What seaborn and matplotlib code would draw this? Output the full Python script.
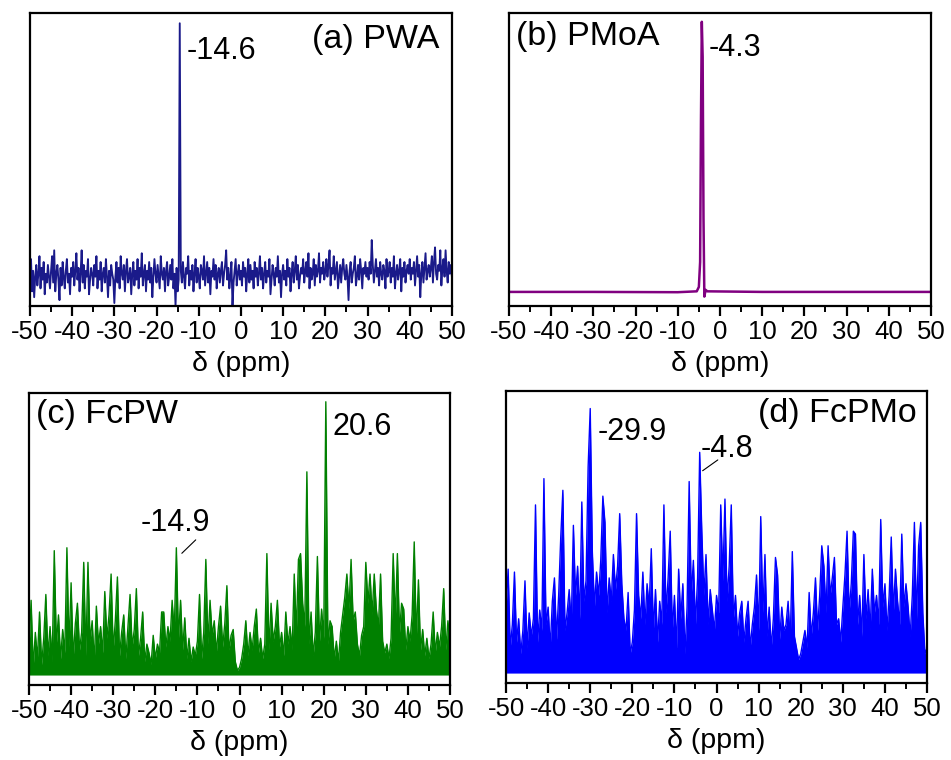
import numpy as np
import pandas as pd
import matplotlib
matplotlib.use("Agg")
import matplotlib.pyplot as plt
import seaborn as sns

# ---------------- data (intensity in % of panel height) ----------------
ppm_fine = np.linspace(-50, 50, 401)   # 0.25 ppm steps
ppm_grid = np.linspace(-50, 50, 201)   # 0.5 ppm steps

pwa = [9, 16, 5, 12, 3, 10, 14, 7, 11, 17, 6, 13, 9, 15, 4, 11, 8, 14, 10, 6,
       12, 17, 8, 19, 5, 11, 14, 9, 2, 13, 7, 15, 10, 6, 12, 16, 8, 11, 4, 13,
       10, 15, 7, 12, 18, 9, 13, 5, 11, 19, 8, 14, 6, 12, 10, 16, 4, 9, 13, 11,
       7, 14, 10, 17, 6, 12, 9, 15, 5, 11, 13, 8, 16, 10, 3, 12, 7, 14, 11, 9,
       1, 10, 15, 8, 13, 6, 17, 11, 9, 14, 5, 12, 16, 8, 10, 13, 4, 11, 15, 7,
       12, 9, 16, 6, 13, 10, 18, 7, 11, 14, 5, 12, 9, 15, 8, 13, 3, 10, 16, 11,
       8, 14, 10, 6, 17, 11, 9, 13, 5, 12, 15, 7, 10, 14, 9, 16, 6, 11, 0, 13,
       5, 9, 96.5, 12, 8, 15, 10, 6, 13, 11, 17, 7, 12, 9, 14, 5, 11, 16, 8, 13,
       10, 6, 14, 12, 9, 17, 7, 11, 15, 8, 13, 4, 12, 10, 16, 9, 14, 6, 11, 13,
       8, 12, 15, 7, 11, 14, 19, 9, 13, 6, 10, 15, 0, 8, 12, 16, 7, 11, 14, 9,
       12, 7, 15, 10, 13, 5, 11, 16, 8, 14, 9, 12, 6, 15, 10, 13, 7, 11, 17, 9,
       13, 6, 11, 15, 8, 12, 10, 16, 4, 9, 14, 11, 7, 13, 10, 17, 8, 12, 3, 11,
       14, 9, 12, 7, 16, 10, 13, 5, 11, 15, 8, 12, 17, 9, 14, 6, 10, 13, 11, 16,
       8, 12, 15, 10, 18, 6, 13, 9, 11, 16, 7, 14, 10, 12, 18, 8, 13, 11, 15, 9,
       12, 16, 10, 14, 19, 7, 13, 11, 17, 9, 12, 15, 6, 10, 14, 8, 13, 16, 11, 9,
       14, 10, 2, 12, 15, 8, 11, 13, 17, 7, 10, 14, 9, 16, 12, 6, 13, 11, 15, 10,
       13, 9, 15, 11, 22.5, 14, 8, 12, 16, 10, 13, 7, 15, 11, 9, 14, 12, 6, 16, 10,
       12, 15, 8, 13, 10, 17, 6, 11, 14, 9, 12, 16, 5, 13, 10, 15, 8, 12, 14, 11,
       16, 9, 13, 11, 15, 7, 12, 17, 10, 14, 3, 11, 15, 8, 13, 18, 9, 12, 14, 10,
       13, 17, 8, 15, 20, 11, 9, 14, 12, 19, 7, 13, 16, 10, 19, 12, 8, 15, 11, 14,
       10]

pmoa_ppm = [-50, -30, -10, -5.5, -5.0, -4.7, -4.5, -4.3, -4.1, -3.9, -3.7, -3.4, -3.0, 10, 30, 50]
pmoa = [4.8, 4.8, 4.7, 5.0, 6.5, 15, 63, 97, 85, 30, 3.2, 5.5, 5.0, 4.8, 4.8, 4.8]

fcpw = [12, 29, 6, 18, 9, 25, 7, 16, 31, 10, 20, 8, 46, 14, 24, 9, 19, 11, 47, 13,
        35, 9, 21, 28, 12, 18, 42, 10, 42, 15, 22, 8, 27, 14, 20, 11, 32, 16, 24, 38,
        12, 22, 37, 10, 18, 24, 9, 20, 31, 13, 19, 33, 10, 16, 25, 8, 14, 11, 7, 17,
        9, 14, 11, 25, 25, 13, 20, 15, 29, 18, 47, 16, 29, 12, 23, 9, 16, 8, 13, 10,
        15, 31, 9, 18, 43, 14, 29, 17, 22, 11, 20, 27, 13, 21, 34, 12, 17, 19, 8, 5,
        6, 9, 14, 22, 10, 18, 12, 20, 26, 11, 16, 9, 14, 45, 12, 28, 15, 20, 29, 13,
        18, 10, 25, 14, 20, 12, 38, 18, 43, 45, 28, 20, 73, 14, 25, 10, 18, 44, 15, 26,
        16, 97, 14, 22, 20, 9, 15, 8, 18, 24, 30, 38, 26, 43, 22, 25, 14, 10, 17, 20,
        42, 28, 38, 24, 38, 26, 20, 38, 15, 11, 14, 9, 16, 45, 22, 45, 18, 28, 26, 12,
        20, 15, 24, 49, 16, 36, 12, 19, 10, 16, 9, 14, 25, 11, 18, 13, 20, 33, 12, 22,
        14]

fcpmo = [25, 39, 12, 20, 38, 14, 22, 10, 18, 35, 12, 24, 16, 22, 61, 14, 25, 18, 70, 20,
         26, 12, 28, 36, 15, 30, 50, 66, 18, 24, 32, 20, 54, 30, 40, 22, 62, 28, 35, 74,
         94, 45, 26, 38, 30, 42, 64, 55, 24, 36, 28, 44, 32, 40, 58, 34, 22, 18, 31, 10,
         14, 25, 58, 30, 22, 38, 20, 34, 26, 46, 18, 32, 14, 28, 20, 61, 24, 36, 52, 18,
         30, 12, 39, 22, 34, 10, 26, 69, 30, 42, 20, 36, 79, 52, 30, 44, 20, 32, 25, 18,
         30, 24, 61, 35, 63, 28, 40, 61, 22, 30, 16, 24, 28, 14, 22, 28, 12, 20, 26, 37,
         18, 57, 24, 44, 16, 26, 12, 22, 43, 37, 15, 26, 18, 20, 28, 14, 45, 16, 12, 8,
         10, 14, 18, 12, 31, 16, 24, 36, 18, 30, 47, 40, 24, 47, 30, 36, 43, 20, 22, 14,
         26, 37, 52, 24, 34, 52, 51, 20, 30, 16, 44, 22, 32, 18, 39, 24, 30, 20, 56, 26,
         34, 18, 30, 50, 24, 39, 28, 20, 51, 26, 34, 26, 16, 30, 55, 22, 47, 55, 24, 10,
         12]

panel_titles = ["(a) PWA", "(b) PMoA", "(c) FcPW", "(d) FcPMo"]
xticks = [-50, -40, -30, -20, -10, 0, 10, 20, 30, 40, 50]
xlabel = "δ (ppm)"

# ---------------- style ----------------
sns.set_style("ticks")
plt.rcParams["font.family"] = ["Liberation Sans", "DejaVu Sans"]
plt.rcParams["text.color"] = "black"
plt.rcParams["axes.labelcolor"] = "black"
plt.rcParams["xtick.color"] = "black"
plt.rcParams["axes.linewidth"] = 1.6

fig = plt.figure(figsize=(9.51, 7.60), dpi=100)
rects = [
    [0.0315, 0.5974, 0.4437, 0.3855],
    [0.5352, 0.5974, 0.4437, 0.3855],
    [0.0305, 0.0987, 0.4427, 0.3842],
    [0.5321, 0.1013, 0.4427, 0.3842],
]
axes = [fig.add_axes(r) for r in rects]

df_a = pd.DataFrame({"ppm": ppm_fine, "I": pwa})
df_b = pd.DataFrame({"ppm": pmoa_ppm, "I": pmoa})
df_c = pd.DataFrame({"ppm": ppm_grid, "I": fcpw})
df_d = pd.DataFrame({"ppm": ppm_grid, "I": fcpmo})

sns.lineplot(data=df_a, x="ppm", y="I", ax=axes[0], color="#1a1a8a", linewidth=1.35, estimator=None)
sns.lineplot(data=df_b, x="ppm", y="I", ax=axes[1], color="#800080", linewidth=1.8, estimator=None)
sns.lineplot(data=df_c, x="ppm", y="I", ax=axes[2], color="#008000", linewidth=1.0, estimator=None)
axes[2].fill_between(df_c["ppm"], 3.4, df_c["I"], color="#008000", linewidth=0)
sns.lineplot(data=df_d, x="ppm", y="I", ax=axes[3], color="#0000ff", linewidth=1.0, estimator=None)
axes[3].fill_between(df_d["ppm"], 3.4, df_d["I"], color="#0000ff", linewidth=0)

for ax in axes:
    ax.set_xlim(-50, 50)
    ax.set_ylim(0, 100)
    ax.set_yticks([])
    ax.set_ylabel("")
    ax.set_xticks(xticks)
    ax.set_xticklabels([str(t) for t in xticks])
    ax.set_xticks(np.arange(-45, 50, 10), minor=True)
    ax.tick_params(axis="x", which="major", direction="out", length=7, width=1.6,
                   labelsize=18.5, pad=3, colors="black")
    ax.tick_params(axis="x", which="minor", direction="out", length=4, width=1.4, colors="black")
    ax.set_xlabel(xlabel, fontsize=20.5, labelpad=5, color="black")
    for s in ax.spines.values():
        s.set_visible(True)
        s.set_color("black")
        s.set_linewidth(1.6)

fs_title = 24.5
fs_peak = 22
axes[0].text(0.97, 0.91, panel_titles[0], transform=axes[0].transAxes, ha="right", va="center", fontsize=fs_title)
axes[1].text(0.016, 0.92, panel_titles[1], transform=axes[1].transAxes, ha="left", va="center", fontsize=fs_title)
axes[2].text(0.016, 0.925, panel_titles[2], transform=axes[2].transAxes, ha="left", va="center", fontsize=fs_title)
axes[3].text(0.975, 0.924, panel_titles[3], transform=axes[3].transAxes, ha="right", va="center", fontsize=fs_title)

axes[0].text(-12.8, 87, "-14.6", ha="left", va="center", fontsize=fs_peak)
axes[1].text(-2.6, 88, "-4.3", ha="left", va="center", fontsize=fs_peak)
axes[2].text(22.0, 88.5, "20.6", ha="left", va="center", fontsize=fs_peak)
axes[2].text(-23.6, 55.4, "-14.9", ha="left", va="center", fontsize=fs_peak)
axes[2].plot([-13.7, -10.4], [45.1, 49.7], color="black", linewidth=0.8)
axes[3].text(-28.3, 86.1, "-29.9", ha="left", va="center", fontsize=fs_peak)
axes[3].text(-3.7, 80, "-4.8", ha="left", va="center", fontsize=fs_peak)
axes[3].plot([-3.3, 0.3], [72.7, 76.4], color="black", linewidth=0.8)

fig.savefig("out.png", dpi=100)
